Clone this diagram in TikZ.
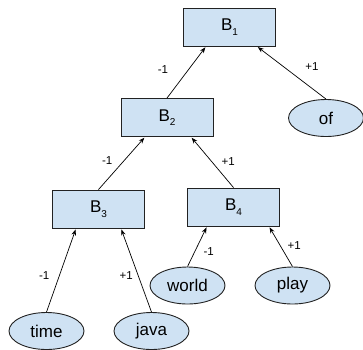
\documentclass[tikz,border=0pt]{standalone}
\usepackage{fontspec}
\setmainfont{Liberation Sans}
\usetikzlibrary{shapes.geometric,arrows.meta,calc}
\definecolor{boxfill}{HTML}{CFE2F3}
\definecolor{edge}{HTML}{222222}
\newcommand{\bsub}[1]{B\raisebox{-4.5pt}{\fontsize{10}{12}\selectfont #1}}
\begin{document}
\begin{tikzpicture}[x=1pt,y=-1pt,
  bbox/.style={draw=edge,fill=boxfill,line width=0.9pt,rectangle,minimum width=92pt,minimum height=38pt,inner sep=0pt,font=\fontsize{17}{20}\selectfont},
  leaf/.style={draw=edge,fill=boxfill,line width=0.9pt,ellipse,minimum width=75pt,minimum height=37pt,inner sep=0pt,font=\fontsize{17}{20}\selectfont},
  conn/.style={draw=black,line width=0.7pt,-{Stealth[length=6pt,width=4.5pt]},shorten >=1pt},
  lbl/.style={font=\fontsize{11.5}{13}\selectfont,inner sep=0pt}]
\useasboundingbox (0,0) rectangle (363,349);
\node[bbox] (B1) at (229.5,27) {\bsub{1}};
\node[bbox] (B2) at (167,117.5) {\bsub{2}};
\node[bbox] (B3) at (98.5,209) {\bsub{3}};
\node[bbox] (B4) at (233.5,207) {\bsub{4}};
\node[leaf] (of) at (326,118) {of};
\node[leaf] (world) at (187.5,285.5) {world};
\node[leaf] (play) at (292.5,285.5) {play};
\node[leaf] (time) at (46.5,331) {time};
\node[leaf] (java) at (151.5,331) {java};
\draw[conn] (B2.north) -- node[lbl,xshift=-23.5pt,yshift=2.5pt] {-1} ([xshift=-23.5pt]B1.south);
\draw[conn] (of.north) -- node[lbl,xshift=20.5pt,yshift=6.5pt] {+1} ([xshift=27.5pt]B1.south);
\draw[conn] (B3.north) -- node[lbl,xshift=-14.5pt,yshift=2.5pt] {-1} ([xshift=-22pt]B2.south);
\draw[conn] (B4.north) -- node[lbl,xshift=16pt,yshift=1pt] {+1} ([xshift=24pt]B2.south);
\draw[conn] (time.north) -- node[lbl,xshift=-17pt,yshift=-5.5pt] {-1} ([xshift=-22.5pt]B3.south);
\draw[conn] (java.north) -- node[lbl,xshift=-10pt,yshift=-5.5pt] {+1} ([xshift=22.5pt]B3.south);
\draw[conn] (world.north) -- node[lbl,xshift=11.5pt,yshift=-5.5pt] {-1} ([xshift=-26.5pt]B4.south);
\draw[conn] (play.north) -- node[lbl,xshift=13.5pt,yshift=0.5pt] {+1} ([xshift=35.5pt]B4.south);
\end{tikzpicture}
\end{document}
